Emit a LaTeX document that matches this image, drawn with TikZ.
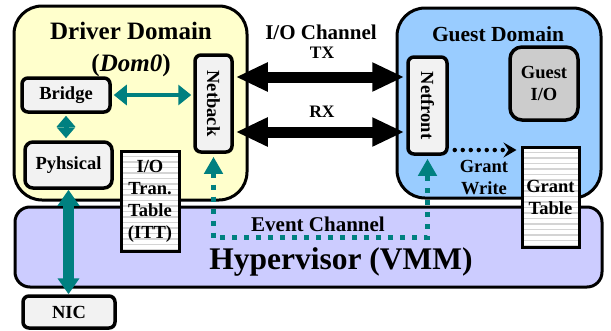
\documentclass[tikz,border=0pt]{standalone}
\usepackage{fontspec}
\setmainfont{Liberation Serif}
\usepackage{graphicx}
\usetikzlibrary{arrows.meta,calc}
\definecolor{dyellow}{HTML}{FFFFCC}
\definecolor{gblue}{HTML}{99CCFF}
\definecolor{hlav}{HTML}{CCCCFF}
\definecolor{boxgray}{HTML}{F2F2F2}
\definecolor{giogray}{HTML}{CCCCCC}
\definecolor{stripe}{HTML}{D4D4D4}
\definecolor{tealc}{HTML}{008080}
\begin{document}
\begin{tikzpicture}[x=1pt,y=-1pt,
  every node/.style={font=\bfseries},
  domainbox/.style={draw=black,line width=3pt,rounded corners=28pt,inner sep=0pt},
  innerbox/.style={draw=black,line width=3.5pt,rounded corners=6pt,fill=boxgray,inner sep=0pt,align=center,font=\fontsize{18.5}{22}\selectfont\bfseries},
  tbl/.style={draw=black,line width=3pt,fill=white,inner sep=0pt,align=center,font=\fontsize{18.5}{22}\selectfont\bfseries,
    path picture={\foreach \i in {1,...,20}{\draw[stripe,line width=1.6pt] ($(path picture bounding box.north west)+(0,-\i*5.5pt)$) -- ($(path picture bounding box.north east)+(0,-\i*5.5pt)$);}}},
  lbl/.style={font=\fontsize{18.5}{22}\selectfont\bfseries,align=center,inner sep=0pt},
  bigarr/.style={draw=black,line width=11pt,arrows={Triangle[length=32pt,width=27pt]-Triangle[length=32pt,width=27pt]}},
  tealthin/.style={draw=tealc,line width=3.5pt,arrows={Triangle[length=13pt,width=20pt]-Triangle[length=13pt,width=20pt]}},
  tealshort/.style={draw=tealc,line width=5pt,arrows={Triangle[length=11pt,width=18pt]-Triangle[length=11pt,width=18pt]}},
  tealbig/.style={draw=tealc,line width=11pt,arrows={Triangle[length=16pt,width=21pt]-Triangle[length=16pt,width=21pt]}},
  evt/.style={draw=tealc,line width=5pt,dash pattern=on 5pt off 7pt,arrows={Triangle[length=17pt,width=18pt]-Triangle[length=17pt,width=18pt]}},
  gw/.style={draw=black,line width=4.5pt,line cap=round,dash pattern=on 0pt off 8pt,arrows={-Stealth[length=13pt,width=15pt,inset=5pt]}}
]
\useasboundingbox (0,0) rectangle (611,330);

% domains
\node[domainbox,fill=dyellow,minimum width=233pt,minimum height=194pt] (driver) at (130.5,103) {};
\node[domainbox,fill=gblue,minimum width=204pt,minimum height=190pt] (guest) at (499,103) {};
\node[domainbox,fill=hlav,rounded corners=15pt,minimum width=587pt,minimum height=80pt] (hyper) at (308.5,247) {};

% tables
\node[tbl,minimum width=58pt,minimum height=100pt] (itt) at (150,201) {I/O\\Tran.\\Table\\(ITT)};
\node[tbl,minimum width=57pt,minimum height=100pt] (granttable) at (550.5,197) {Grant\\Table};

% titles
\node[font=\fontsize{25}{32}\selectfont\bfseries,align=center] (dtitle) at (131,49) {Driver Domain\\(\textit{Dom0})};
\node[font=\fontsize{21.5}{26}\selectfont\bfseries] (gtitle) at (498,34) {Guest Domain};
\node[font=\fontsize{21}{26}\selectfont\bfseries] (ioch) at (321,32) {I/O Channel};
\node[font=\fontsize{17.5}{20}\selectfont\bfseries] (tx) at (322,53) {TX};
\node[font=\fontsize{17.5}{20}\selectfont\bfseries] (rx) at (322,112) {RX};
\node[font=\fontsize{21}{24}\selectfont\bfseries] (evtl) at (318,224) {Event Channel};
\node[font=\fontsize{31.5}{36}\selectfont\bfseries] (hyl) at (341,262) {Hypervisor (VMM)};
\node[lbl] (gwl) at (484,178) {Grant\\Write};

% inner boxes
\node[innerbox,minimum width=88pt,minimum height=34pt] (bridge) at (66,95) {Bridge};
\node[innerbox,minimum width=87pt,minimum height=46pt,rounded corners=8pt] (physical) at (68.5,165) {Pyhsical};
\node[innerbox,minimum width=92pt,minimum height=32pt] (nic) at (69,312) {NIC};
\node[innerbox,minimum width=37pt,minimum height=97pt] (netback) at (213.5,103.5) {\rotatebox{-90}{Netback}};
\node[innerbox,minimum width=39pt,minimum height=97pt] (netfront) at (427.5,105.5) {\rotatebox{-90}{Netfront}};
\node[innerbox,fill=giogray,rounded corners=12pt,minimum width=68pt,minimum height=73pt] (guestio) at (544,83.5) {Guest\\I/O};

% I/O channel arrows
\draw[bigarr] ([xshift=2pt]netback.east |- 0,77) -- ([xshift=-2pt]netfront.west |- 0,77);
\draw[bigarr] ([xshift=2pt]netback.east |- 0,132) -- ([xshift=-2pt]netfront.west |- 0,132);

% teal arrows
\draw[tealthin] ([xshift=2pt]bridge.east) -- ([xshift=-2pt]netback.west |- bridge.east);
\draw[tealshort] ([yshift=-2pt]bridge.south) -- ([yshift=2pt]bridge.south |- physical.north);
\draw[tealbig] (physical.south) -- (physical.south |- nic.north);

% event channel
\draw[evt] ([yshift=-3pt]netback.south) -- ++(0,81) -| ([yshift=-3pt]netfront.south);

% grant write
\draw[gw] ([xshift=6pt]netfront.east |- 0,150) -- ([xshift=-4pt]granttable.west |- 0,150);
\end{tikzpicture}
\end{document}
